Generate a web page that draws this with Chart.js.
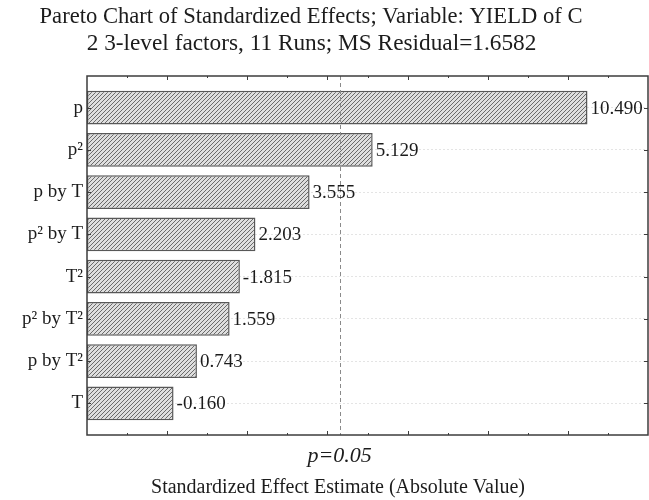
<!DOCTYPE html>
<html>
<head>
<meta charset="utf-8">
<script src="https://cdn.jsdelivr.net/npm/chart.js@4.4.1/dist/chart.umd.min.js"></script>
<style>
  html, body { margin: 0; padding: 0; background: #fff; }
  #wrap { width: 649px; height: 500px; position: relative; }
</style>
</head>
<body>
<div id="wrap"><canvas id="pareto"></canvas></div>
<script>
// Effects, in Pareto order (largest |t| first)
const effectLabels = ['p', 'p\u00B2', 'p by T', 'p\u00B2 by T', 'T\u00B2', 'p\u00B2 by T\u00B2', 'p by T\u00B2', 'T'];
const effectValues = [10.490, 5.129, 3.555, 2.203, -1.815, 1.559, 0.743, -0.160];

// Significance cut-off (t critical at p = 0.05)
const criticalT = 4.303;
const criticalLabel = 'p=0.05';

// Value axis range and minor/major tick step
const axisMin = -2;
const axisMax = 12;
const tickStep = 1;

const titleLines = [
  'Pareto Chart of Standardized Effects; Variable: YIELD of C',
  '2 3-level factors, 11 Runs; MS Residual=1.6582'
];
const xAxisTitle = 'Standardized Effect Estimate (Absolute Value)';

const SERIF = "'Liberation Serif', 'Times New Roman', serif";
const INK = '#1c1c1c';

const canvas = document.getElementById('pareto');
const ctx = canvas.getContext('2d');

// Diagonal hatch fill for the bars
function makeHatch() {
  const t = document.createElement('canvas');
  t.width = 4; t.height = 4;
  const g = t.getContext('2d');
  g.fillStyle = '#dedede';
  g.fillRect(0, 0, 4, 4);
  g.strokeStyle = '#6a6a6a';
  g.lineWidth = 1;
  g.beginPath();
  g.moveTo(-1, 5); g.lineTo(5, -1);
  g.moveTo(-1, 1); g.lineTo(1, -1);
  g.moveTo(3, 5); g.lineTo(5, 3);
  g.stroke();
  return ctx.createPattern(t, 'repeat');
}

// Heading and axis caption (centred on the figure rather than the plot box)
const captions = {
  id: 'captions',
  afterDraw(chart) {
    const c = chart.ctx;
    c.save();
    c.fillStyle = INK;
    c.textAlign = 'center';
    c.textBaseline = 'middle';
    c.font = '22.6px ' + SERIF;
    c.fillText(titleLines[0], 311, 17);
    c.font = '23.3px ' + SERIF;
    c.fillText(titleLines[1], 311.5, 44);
    c.font = '20px ' + SERIF;
    c.fillText(xAxisTitle, 338, 488);
    c.restore();
  }
};

// Frame, inward tick marks, cut-off line and value labels
const decorations = {
  id: 'decorations',
  afterDatasetsDraw(chart) {
    const { ctx: c, chartArea: a, scales: { x, y } } = chart;
    c.save();

    // dashed significance line
    const xc = x.getPixelForValue(criticalT);
    c.strokeStyle = '#8a8a8a';
    c.lineWidth = 1;
    c.setLineDash([4, 3]);
    c.beginPath();
    c.moveTo(Math.round(xc) + 0.5, a.top);
    c.lineTo(Math.round(xc) + 0.5, a.bottom);
    c.stroke();
    c.setLineDash([]);

    // frame
    c.strokeStyle = '#3c3c3c';
    c.lineWidth = 1.5;
    c.strokeRect(a.left, a.top, a.right - a.left, a.bottom - a.top);

    // tick marks pointing into the plot
    c.lineWidth = 1;
    c.beginPath();
    for (let v = axisMin + tickStep; v < axisMax; v += tickStep) {
      const px = Math.round(x.getPixelForValue(v)) + 0.5;
      const len = (v % 2 === 0) ? 4 : 2;
      c.moveTo(px, a.bottom); c.lineTo(px, a.bottom - len);
      c.moveTo(px, a.top); c.lineTo(px, a.top + len);
    }
    effectLabels.forEach((_, i) => {
      const py = Math.round(y.getPixelForValue(i)) + 0.5;
      c.moveTo(a.left, py); c.lineTo(a.left + 4, py);
      c.moveTo(a.right, py); c.lineTo(a.right - 4, py);
    });
    c.stroke();

    // value labels at the bar ends
    const meta = chart.getDatasetMeta(0);
    c.fillStyle = INK;
    c.font = '19px ' + SERIF;
    c.textAlign = 'left';
    c.textBaseline = 'middle';
    meta.data.forEach((bar, i) => {
      c.fillText(effectValues[i].toFixed(3), bar.x + 3, bar.y + 1);
    });
    c.restore();
  }
};

new Chart(canvas, {
  type: 'bar',
  data: {
    datasets: [{
      data: effectValues.map((v, i) => ({ x: Math.abs(v), y: i })),
      base: axisMin,
      backgroundColor: makeHatch(),
      borderColor: '#585858',
      borderWidth: 1.5,
      borderSkipped: false,
      barPercentage: 0.8,
      categoryPercentage: 1.0
    }]
  },
  options: {
    indexAxis: 'y',
    responsive: true,
    maintainAspectRatio: false,
    animation: false,
    layout: { padding: { left: 0, right: 1, top: 76, bottom: 0 } },
    plugins: {
      legend: { display: false },
      tooltip: { enabled: false },
      title: { display: false }
    },
    scales: {
      x: {
        type: 'linear',
        min: axisMin,
        max: axisMax,
        afterBuildTicks: (axis) => { axis.ticks = [{ value: criticalT }]; },
        afterFit: (axis) => { axis.height = 65; },
        ticks: {
          callback: () => criticalLabel,
          color: INK,
          font: { family: SERIF, size: 22, style: 'italic' },
          padding: 8,
          maxRotation: 0
        },
        grid: { display: false, drawTicks: false },
        border: { display: false }
      },
      y: {
        type: 'linear',
        reverse: true,
        offset: false,
        min: -0.75,
        max: effectLabels.length - 0.25,
        afterBuildTicks: (axis) => { axis.ticks = effectLabels.map((_, i) => ({ value: i })); },
        afterFit: (axis) => { axis.width = 87; },
        ticks: {
          callback: (v) => effectLabels[v],
          color: INK,
          font: { family: SERIF, size: 19 },
          padding: 4,
          autoSkip: false
        },
        grid: { color: '#e4e4e4', lineWidth: 1, drawTicks: false, offset: false },
        border: { display: false, dash: [2, 2] }
      }
    }
  },
  plugins: [decorations, captions]
});
</script>
</body>
</html>
